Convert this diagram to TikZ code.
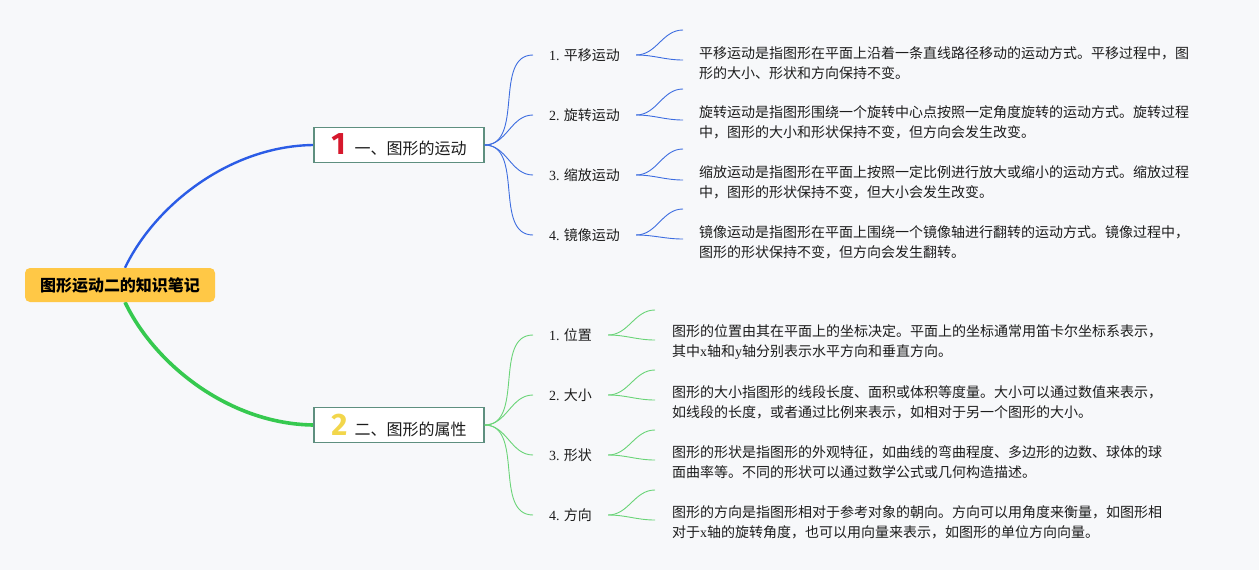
\documentclass[tikz,border=0pt]{standalone}
\usepackage{fontspec}
\setmainfont{Noto Sans CJK SC}
\newfontfamily\lat{Liberation Serif}
\newfontfamily\numfont{Fira Sans}
\definecolor{bgc}{HTML}{F7F8FA}
\definecolor{rootc}{HTML}{FFC846}
\definecolor{bluemain}{HTML}{2B5CE6}
\definecolor{bluethin}{HTML}{3D6DE0}
\definecolor{greenmain}{HTML}{36C94F}
\definecolor{greenthin}{HTML}{6AD478}
\definecolor{boxc}{HTML}{5E8F7F}
\definecolor{redd}{HTML}{D6182C}
\definecolor{yeld}{HTML}{F2D64B}
\definecolor{txt}{HTML}{1C1C1C}
\pgfdeclarelayer{bg}
\pgfsetlayers{bg,main}
\newcommand{\bigdigit}[2]{{\color{#1}\numfont\bfseries\fontsize{31}{31}\selectfont #2}}
\tikzset{
  rootbox/.style={fill=rootc, rounded corners=5pt, minimum width=190pt, minimum height=34pt, inner sep=0pt, font=\fontsize{16}{20}\selectfont\bfseries, text=black},
  topicbox/.style={draw=boxc, line width=1.4pt, fill=white, minimum width=170pt, minimum height=35pt, inner sep=0pt, font=\fontsize{16}{20}\selectfont, text=txt},
  sublabel/.style={anchor=west, inner xsep=16pt, inner ysep=4pt, font=\fontsize{14}{18}\selectfont, text=txt},
  desctext/.style={anchor=west, inner xsep=16pt, inner ysep=2pt, align=left, font=\fontsize{14}{20}\selectfont, text=txt},
  bthin/.style={draw=bluethin, line width=0.9pt},
  gthin/.style={draw=greenthin, line width=0.9pt},
}
\begin{document}
\begin{tikzpicture}[x=1pt,y=-1pt]
\begin{pgfonlayer}{bg}
\fill[bgc] (0,0) rectangle (1259,570);
\end{pgfonlayer}
\useasboundingbox (0,0) rectangle (1259,570);

% root and main branches
\node[rootbox] (root) at (120,285) {图形运动二的知识笔记};
\node[topicbox] (b1) at (399,145) {\bigdigit{redd}{1}\hspace{9pt}一、图形的运动};
\node[topicbox] (b2) at (399,425) {\bigdigit{yeld}{2}\hspace{7pt}二、图形的属性};

\begin{pgfonlayer}{bg}
\draw[draw=bluemain, line width=2.4pt] ([xshift=5pt]root.north) .. controls (155,205) and (230,146) .. (b1.west);
\draw[draw=greenmain, line width=3.6pt] ([xshift=5pt]root.south) .. controls (155,365) and (230,424) .. (b2.west);
\end{pgfonlayer}

% sub labels top
\node[sublabel] (t1) at (533,55) {{\lat 1.} 平移运动};
\node[sublabel] (t2) at (533,115) {{\lat 2.} 旋转运动};
\node[sublabel] (t3) at (533,175) {{\lat 3.} 缩放运动};
\node[sublabel] (t4) at (533,235) {{\lat 4.} 镜像运动};

% sub labels bottom
\node[sublabel] (s1) at (533,335) {{\lat 1.} 位置};
\node[sublabel] (s2) at (533,395) {{\lat 2.} 大小};
\node[sublabel] (s3) at (533,455) {{\lat 3.} 形状};
\node[sublabel] (s4) at (533,515) {{\lat 4.} 方向};

\foreach \n in {t1,t2,t3,t4} \draw[bthin] (b1.east) to[out=0,in=180] (\n.west);
\foreach \n in {s1,s2,s3,s4} \draw[gthin] (b2.east) to[out=0,in=180] (\n.west);

% descriptions top
\node[desctext] (d1) at (683,63) {平移运动是指图形在平面上沿着一条直线路径移动的运动方式。平移过程中，图\\形的大小、形状和方向保持不变。};
\node[desctext] (d2) at (683,122) {旋转运动是指图形围绕一个旋转中心点按照一定角度旋转的运动方式。旋转过程\\中，图形的大小和形状保持不变，但方向会发生改变。};
\node[desctext] (d3) at (683,182) {缩放运动是指图形在平面上按照一定比例进行放大或缩小的运动方式。缩放过程\\中，图形的形状保持不变，但大小会发生改变。};
\node[desctext] (d4) at (683,242) {镜像运动是指图形在平面上围绕一个镜像轴进行翻转的运动方式。镜像过程中，\\图形的形状保持不变，但方向会发生翻转。};

% descriptions bottom
\node[desctext] (e1) at (656,342) {图形的位置由其在平面上的坐标决定。平面上的坐标通常用笛卡尔坐标系表示，\\其中{\lat x}轴和{\lat y}轴分别表示水平方向和垂直方向。};
\node[desctext] (e2) at (656,402) {图形的大小指图形的线段长度、面积或体积等度量。大小可以通过数值来表示，\\如线段的长度，或者通过比例来表示，如相对于另一个图形的大小。};
\node[desctext] (e3) at (656,462) {图形的形状是指图形的外观特征，如曲线的弯曲程度、多边形的边数、球体的球\\面曲率等。不同的形状可以通过数学公式或几何构造描述。};
\node[desctext] (e4) at (656,522) {图形的方向是指图形相对于参考对象的朝向。方向可以用角度来衡量，如图形相\\对于{\lat x}轴的旋转角度，也可以用向量来表示，如图形的单位方向向量。};

% leaf end coordinates
\coordinate (u1a) at (683,30);  \coordinate (u1b) at (683,60);
\coordinate (u2a) at (683,89);  \coordinate (u2b) at (683,120);
\coordinate (u3a) at (683,149); \coordinate (u3b) at (683,180);
\coordinate (u4a) at (683,209); \coordinate (u4b) at (683,239);
\coordinate (v1a) at (655,310); \coordinate (v1b) at (655,340);
\coordinate (v2a) at (655,370); \coordinate (v2b) at (655,400);
\coordinate (v3a) at (655,430); \coordinate (v3b) at (655,460);
\coordinate (v4a) at (655,490); \coordinate (v4b) at (655,520);

\foreach \n/\k in {t1/u1,t2/u2,t3/u3,t4/u4}{
  \draw[bthin] (\n.east) to[out=0,in=180] (\k a);
  \draw[bthin] (\n.east) to[out=0,in=180] (\k b);
}
\foreach \n/\k in {s1/v1,s2/v2,s3/v3,s4/v4}{
  \draw[gthin] (\n.east) to[out=0,in=180] (\k a);
  \draw[gthin] (\n.east) to[out=0,in=180] (\k b);
}
\end{tikzpicture}
\end{document}
